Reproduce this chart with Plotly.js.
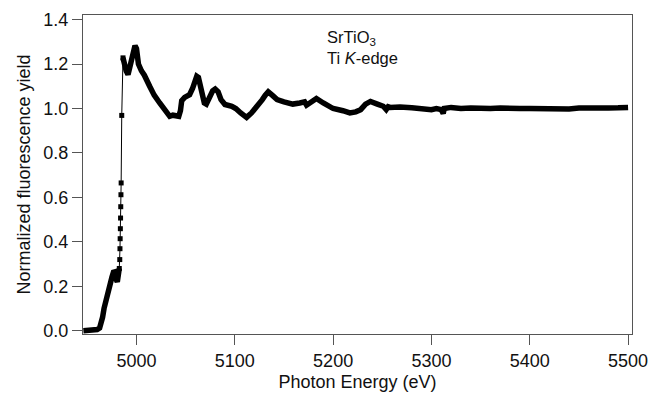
<!DOCTYPE html>
<html>
<head>
<meta charset="utf-8">
<script src="https://cdn.plot.ly/plotly-3.0.1.min.js"></script>
<style>html,body{margin:0;padding:0;background:#fff}#chart{width:651px;height:396px}</style>
</head>
<body>
<div id="chart"></div>
<script>
// Pre-edge region (dense points, drawn as thick band)
const preEnergy = [4946, 4950, 4955, 4960, 4962.5, 4964, 4965.5, 4967, 4969, 4971, 4973, 4975, 4977, 4978, 4979.5, 4980.5, 4981.5, 4982.5];
const preYield  = [0.0, 0.0, 0.002, 0.005, 0.012, 0.03, 0.06, 0.1, 0.14, 0.17, 0.2, 0.24, 0.27, 0.265, 0.23, 0.22, 0.25, 0.28];

// Absorption edge (sparse points, markers on a thin line)
const edgeEnergy = [4982.5, 4983.0, 4983.2, 4983.4, 4983.6, 4983.8, 4984.0, 4984.2, 4984.4, 4985.0, 4986.3];
const edgeYield  = [0.28, 0.32, 0.369, 0.414, 0.459, 0.507, 0.558, 0.612, 0.665, 0.969, 1.228];

// Post-edge / EXAFS region (dense points, drawn as thick band)
const postEnergy = [4986.3, 4987.5, 4989.5, 4991.4, 4993, 4994.5, 4996, 4997.5, 4998.5, 5000, 5001, 5002, 5005, 5008, 5013.4, 5018, 5023.6, 5028.7, 5031, 5033.8, 5037, 5040, 5043, 5044.7, 5046, 5049, 5054, 5057, 5061.3, 5063, 5066, 5069, 5071, 5074, 5077.5, 5080, 5083, 5086, 5090, 5097, 5101, 5106, 5112, 5117, 5123, 5128, 5131, 5134, 5138, 5143, 5150, 5159, 5166, 5171, 5173, 5176, 5183, 5190, 5200, 5210, 5217, 5223, 5228, 5233, 5238, 5245, 5251, 5254, 5256, 5258, 5268, 5280, 5290, 5300, 5305, 5310, 5312, 5313, 5320, 5330, 5340, 5350, 5360, 5370, 5380, 5390, 5400, 5410, 5420, 5430, 5440, 5450, 5460, 5470, 5480, 5490, 5500];
const postYield  = [1.228, 1.2, 1.17, 1.153, 1.18, 1.21, 1.22, 1.265, 1.283, 1.27, 1.24, 1.2, 1.17, 1.15, 1.1, 1.06, 1.025, 0.995, 0.975, 0.965, 0.97, 0.968, 0.965, 0.99, 1.035, 1.05, 1.062, 1.09, 1.145, 1.14, 1.08, 1.025, 1.02, 1.05, 1.08, 1.088, 1.075, 1.04, 1.018, 1.01, 1.0, 0.98, 0.96, 0.98, 1.01, 1.04, 1.06, 1.075, 1.06, 1.04, 1.03, 1.02, 1.025, 1.03, 1.015, 1.025, 1.045, 1.025, 1.0, 0.99, 0.98, 0.985, 0.995, 1.02, 1.032, 1.02, 1.01, 0.995, 1.008, 1.005, 1.007, 1.003, 1.0, 0.995, 1.0, 0.995, 0.978, 1.0, 1.005, 1.0, 1.002, 0.998, 1.0, 1.002, 0.998, 1.0, 1.0, 0.998, 1.002, 1.0, 0.998, 1.002, 1.0, 0.998, 1.002, 1.003, 1.005];

const xTicks = [5000, 5100, 5200, 5300, 5400, 5500];
const yTicks = [0.0, 0.2, 0.4, 0.6, 0.8, 1.0, 1.2, 1.4];

const FONT = 'Liberation Sans, Arial, Helvetica, sans-serif';

const traces = [
  {x: preEnergy, y: preYield, mode: 'lines', line: {color: '#000', width: 5.5}, hoverinfo: 'skip', showlegend: false},
  {x: postEnergy, y: postYield, mode: 'lines', line: {color: '#000', width: 5.5}, hoverinfo: 'skip', showlegend: false},
  {x: edgeEnergy, y: edgeYield, mode: 'lines+markers', line: {color: '#000', width: 1}, marker: {symbol: 'square', size: 5, color: '#000'}, hoverinfo: 'skip', showlegend: false}
];

const axisCommon = {
  showgrid: false, zeroline: false, showline: true, mirror: true,
  linecolor: '#555', linewidth: 1, ticks: 'outside', ticklen: 10, tickwidth: 1, tickcolor: '#555',
  tickfont: {family: FONT, size: 18, color: '#111'}
};

const layout = {
  width: 651, height: 396,
  margin: {l: 83, r: 19, t: 15, b: 62},
  paper_bgcolor: '#fff', plot_bgcolor: '#fff',
  font: {family: FONT, color: '#111'},
  xaxis: Object.assign({}, axisCommon, {
    range: [4945.6, 5504], tickmode: 'array', tickvals: xTicks, ticktext: xTicks.map(String),
    title: {text: 'Photon Energy (eV)', font: {family: FONT, size: 18, color: '#111'}, standoff: 5}
  }),
  yaxis: Object.assign({}, axisCommon, {
    range: [-0.015, 1.421], tickmode: 'array', tickvals: yTicks, ticktext: yTicks.map(v => v.toFixed(1)),
    title: {text: 'Normalized fluorescence yield', font: {family: FONT, size: 18, color: '#111'}, standoff: 8}
  }),
  annotations: [{
    xref: 'paper', yref: 'paper', x: 0.44, y: 0.965, xanchor: 'left', yanchor: 'top', align: 'left',
    showarrow: false, text: 'SrTiO<sub>3</sub><br>Ti <i>K</i>-edge',
    font: {family: FONT, size: 16.5, color: '#111'}
  }]
};

Plotly.newPlot('chart', traces, layout, {staticPlot: true, displayModeBar: false});
</script>
</body>
</html>
